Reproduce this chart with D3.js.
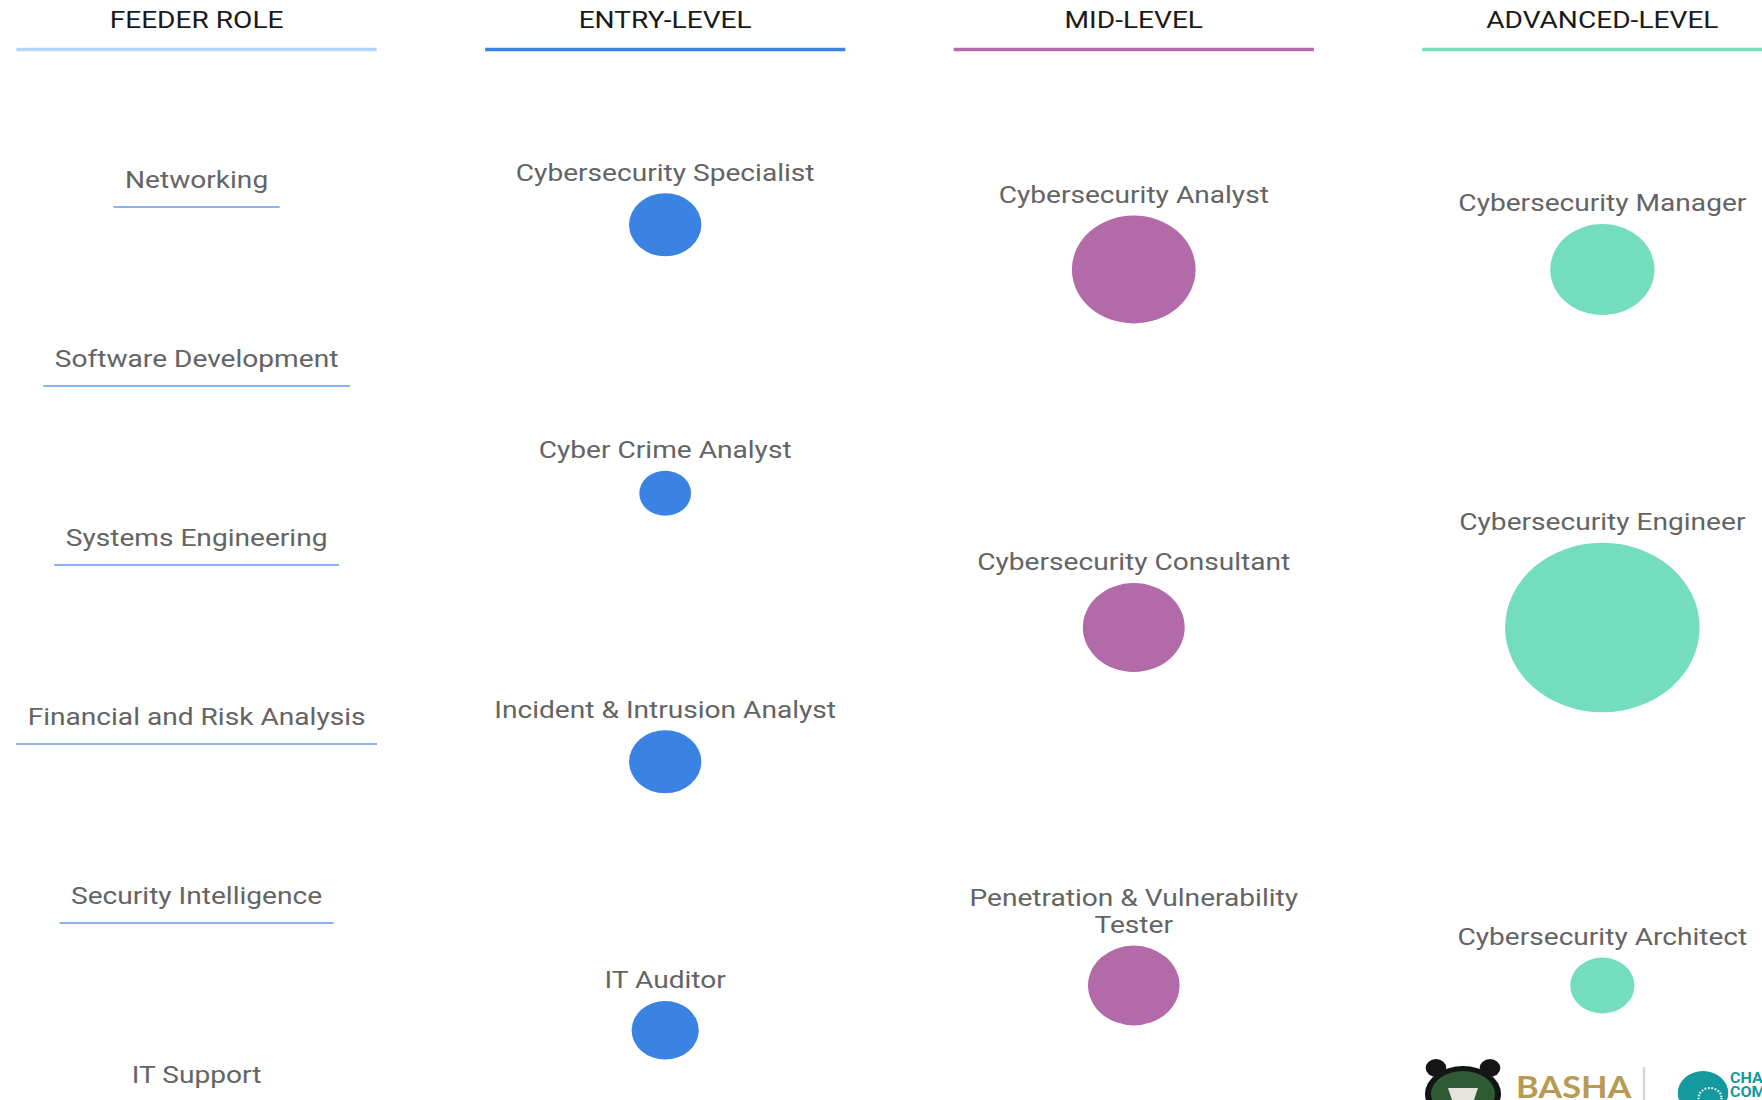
<html lang="en">
<head>
<meta charset="UTF-8">
<title>Cybersecurity Career Pathway</title>
<script src="https://d3js.org/d3.v7.min.js"></script>
<style>
  body { margin: 0; background: #fff; font-family: Roboto, "Noto Sans", sans-serif; }
  .head { font-size: 24.5px; fill: #1a1a1a; text-anchor: middle; dominant-baseline: central; }
  .lbl { font-size: 24.5px; fill: #646464; text-anchor: middle; dominant-baseline: central; }
</style>
</head>
<body>
<div id="chart"></div>
<script>
// column headers
const levels = ["FEEDER ROLE", "ENTRY-LEVEL", "MID-LEVEL", "ADVANCED-LEVEL"];
const levelColors = ["#b4d6f7", "#3b83e2", "#b36aa9", "#74ddbd"];

// feeder roles (no bubbles)
const feederRoles = ["Networking", "Software Development", "Systems Engineering",
  "Financial and Risk Analysis", "Security Intelligence", "IT Support"];

// roles per level and their estimated job openings (bubble size)
const entryRoles = ["Cybersecurity Specialist", "Cyber Crime Analyst", "Incident & Intrusion Analyst", "IT Auditor"];
const entryValues = [12300, 6300, 12300, 10600];
const midRoles = ["Cybersecurity Analyst", "Cybersecurity Consultant", "Penetration & Vulnerability\nTester"];
const midValues = [36000, 24400, 19700];
const advRoles = ["Cybersecurity Manager", "Cybersecurity Engineer", "Cybersecurity Architect"];
const advValues = [25600, 89000, 9700];

const W = 1762, H = 1100;
const k = 1.147;              // the reference is stretched sideways
const IW = W / k;

const svg = d3.select("#chart").append("svg")
  .attr("width", W).attr("height", H)
  .attr("viewBox", `0 0 ${IW} ${H}`)
  .attr("preserveAspectRatio", "none");

const x = d3.scalePoint().domain(levels).range([171.4, 1397]);
const halfLine = 157;

// headers
levels.forEach((l, i) => {
  svg.append("text").attr("class", "head")
    .attr("x", x(l)).attr("y", 20).text(l);
  svg.append("line")
    .attr("x1", x(l) - halfLine).attr("x2", x(l) + halfLine)
    .attr("y1", 49.5).attr("y2", 49.5)
    .attr("stroke", levelColors[i]).attr("stroke-width", 3.5);
});

const yFeed = d3.scaleBand().domain(feederRoles).range([90.5, 1164.5]);
const r = d3.scaleSqrt().domain([0, d3.max(advValues)]).range([0, 84.8]);

// feeder labels with underline
const fg = svg.append("g");
feederRoles.forEach(name => {
  const cy = yFeed(name) + yFeed.bandwidth() / 2;
  const t = fg.append("text").attr("class", "lbl")
    .attr("x", x(levels[0])).attr("y", cy).text(name);
  const w = t.node().getComputedTextLength();
  fg.append("line")
    .attr("x1", x(levels[0]) - w / 2 - 10).attr("x2", x(levels[0]) + w / 2 + 10)
    .attr("y1", cy + 27).attr("y2", cy + 27)
    .attr("stroke", "#8ab2ee").attr("stroke-width", 2.2);
});

function bubbles(level, roles, values, color) {
  const y = d3.scaleBand().domain(roles).range([90.5, 1164.5]);
  const g = svg.append("g");
  roles.forEach((name, i) => {
    const cy = y(name) + y.bandwidth() / 2;
    const rad = r(values[i]);
    g.append("circle")
      .attr("cx", x(level)).attr("cy", cy)
      .attr("r", rad)
      .attr("fill", color);
    const lines = name.split("\n");
    lines.forEach((ln, j) => {
      g.append("text").attr("class", "lbl")
        .attr("x", x(level))
        .attr("y", cy - rad - 21 - (lines.length - 1 - j) * 27)
        .text(ln);
    });
  });
}
bubbles(levels[1], entryRoles, entryValues, levelColors[1]);
bubbles(levels[2], midRoles, midValues, levelColors[2]);
bubbles(levels[3], advRoles, advValues, levelColors[3]);

// partner logos, bottom right (approximate)
const logo = svg.append("g");
const lx = v => v / k;
logo.append("ellipse").attr("cx", lx(1463)).attr("cy", 1094).attr("rx", lx(38)).attr("ry", 28).attr("fill", "#151515");
logo.append("circle").attr("cx", lx(1436)).attr("cy", 1068).attr("r", 9).attr("fill", "#151515");
logo.append("circle").attr("cx", lx(1490)).attr("cy", 1068).attr("r", 9).attr("fill", "#151515");
logo.append("ellipse").attr("cx", lx(1463)).attr("cy", 1094).attr("rx", lx(32)).attr("ry", 23).attr("fill", "#2e5b33");
logo.append("path")
  .attr("d", `M${lx(1448)},1088 L${lx(1478)},1088 L${lx(1474)},1100 L${lx(1452)},1100 Z`)
  .attr("fill", "#e6e3dc");
logo.append("text").attr("x", lx(1516)).attr("y", 1086)
  .attr("dominant-baseline", "central")
  .style("font-size", "30px").style("font-weight", 700).style("fill", "#b99a52")
  .style("font-family", "Lato, sans-serif").text("BASHA");
logo.append("line").attr("x1", lx(1644)).attr("x2", lx(1644)).attr("y1", 1067).attr("y2", 1100)
  .attr("stroke", "#d3d3d3").attr("stroke-width", 2);
logo.append("circle").attr("cx", lx(1703)).attr("cy", 1093).attr("r", 22).attr("fill", "#14999f");
logo.append("circle").attr("cx", lx(1710)).attr("cy", 1098).attr("r", 10).attr("fill", "none")
  .attr("stroke", "#ffffff").attr("stroke-width", 2).attr("stroke-dasharray", "1.5 1.5");
logo.append("text").attr("x", lx(1730)).attr("y", 1078).attr("dominant-baseline", "central")
  .style("font-size", "14px").style("font-weight", 700).style("fill", "#14999f").text("CHA");
logo.append("text").attr("x", lx(1730)).attr("y", 1092).attr("dominant-baseline", "central")
  .style("font-size", "14px").style("font-weight", 700).style("fill", "#14999f").text("COM");
</script>
</body>
</html>
